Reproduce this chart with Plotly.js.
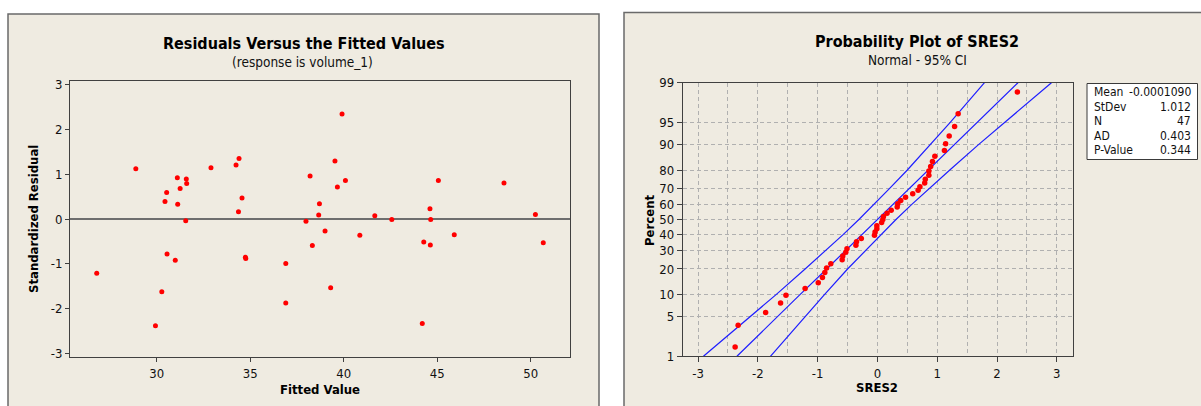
<!DOCTYPE html>
<html>
<head>
<meta charset="utf-8">
<script src="https://cdn.plot.ly/plotly-3.0.1.min.js"></script>
<style>
  html, body { margin: 0; padding: 0; background: #ffffff; }
  #chart { width: 1201px; height: 406px; }
</style>
</head>
<body>
<div id="chart"></div>
<script>
// ---- Data ----
const fittedValues = [26.79, 28.88, 30.27, 29.93, 30.44, 30.53, 30.55, 31.10, 31.12, 31.25, 30.99, 31.58, 31.60, 31.55, 32.90, 34.24, 34.40, 34.56, 34.37, 34.74, 34.76, 36.90, 36.90, 37.98, 38.20, 38.32, 38.70, 38.66, 39.00, 39.30, 39.91, 39.53, 39.66, 40.09, 40.86, 41.66, 42.57, 44.20, 44.28, 44.61, 44.65, 44.63, 45.06, 45.91, 48.57, 50.25, 50.67];
const residuals = [-1.21, 1.12, -1.62, -2.38, 0.39, 0.59, -0.78, 0.92, 0.33, 0.68, -0.92, 0.89, 0.79, -0.04, 1.14, 1.20, 1.35, 0.47, 0.16, -0.85, -0.88, -0.99, -1.87, -0.05, 0.96, -0.59, 0.34, 0.09, -0.27, -1.53, 2.34, 1.29, 0.71, 0.86, -0.36, 0.07, -0.01, -2.33, -0.51, 0.23, -0.01, -0.58, 0.86, -0.35, 0.80, 0.10, -0.53];

// plotting positions (percent) of the sorted SRES2 values, as drawn
const plotPercent = [1.5, 3.6, 5.7, 7.8, 9.9, 12.0, 14.1, 16.2, 18.4, 20.5, 22.6, 24.7, 26.8, 28.9, 31.0, 33.1, 35.2, 37.3, 39.5, 41.6, 43.7, 45.8, 47.9, 50.0, 52.1, 54.2, 56.3, 58.4, 60.5, 62.7, 64.8, 66.9, 69.0, 71.1, 73.2, 75.3, 77.4, 79.5, 81.6, 83.8, 85.9, 88.0, 90.1, 92.2, 94.3, 96.4, 98.5];

// fitted line and 95% CI bands (x positions at each percent level)
const bandPercent = [1, 5, 10, 20, 30, 40, 50, 60, 70, 80, 90, 95, 99];
const fitLineX   = [-2.35, -1.67, -1.30, -0.85, -0.53, -0.26, 0.00, 0.26, 0.53, 0.85, 1.30, 1.67, 2.35];
const ciLeftX    = [-2.91, -2.12, -1.70, -1.21, -0.86, -0.57, -0.31, -0.06, 0.20, 0.50, 0.89, 1.21, 1.79];
const ciRightX   = [-1.79, -1.21, -0.89, -0.50, -0.20, 0.06, 0.31, 0.57, 0.86, 1.21, 1.70, 2.12, 2.91];

const percentTicks = [1, 5, 10, 20, 30, 40, 50, 60, 70, 80, 90, 95, 99];
const residTicks = [-3, -2, -1, 0, 1, 2, 3];
const residTickText = ["-3", "-2", "-1", "0", "1", "2", "3"];
const fittedTicks = [30, 35, 40, 45, 50];
const sresTicks = [-3, -2, -1, 0, 1, 2, 3];
const sresTickText = ["-3", "-2", "-1", "0", "1", "2", "3"];
const statLabels = ["Mean", "StDev", "N", "AD", "P-Value"];
const statValues = ["-0.0001090", "1.012", "47", "0.403", "0.344"];

// ---- normal probability axis transform (inverse standard normal CDF) ----
function normInv(p) {
  const a = [-3.969683028665376e+01, 2.209460984245205e+02, -2.759285104469687e+02, 1.383577518672690e+02, -3.066479806614716e+01, 2.506628277459239e+00];
  const b = [-5.447609879822406e+01, 1.615858368580409e+02, -1.556989798598866e+02, 6.680131188771972e+01, -1.328068155288572e+01];
  const c = [-7.784894002430293e-03, -3.223964580411365e-01, -2.400758277161838e+00, -2.549732539343734e+00, 4.374664141464968e+00, 2.938163982698783e+00];
  const d = [7.784695709041462e-03, 3.224671290700398e-01, 2.445134137142996e+00, 3.754408661907416e+00];
  const pl = 0.02425;
  let q, r;
  if (p < pl) {
    q = Math.sqrt(-2 * Math.log(p));
    return (((((c[0]*q+c[1])*q+c[2])*q+c[3])*q+c[4])*q+c[5]) / ((((d[0]*q+d[1])*q+d[2])*q+d[3])*q+1);
  } else if (p <= 1 - pl) {
    q = p - 0.5; r = q*q;
    return (((((a[0]*r+a[1])*r+a[2])*r+a[3])*r+a[4])*r+a[5])*q / (((((b[0]*r+b[1])*r+b[2])*r+b[3])*r+b[4])*r+1);
  } else {
    q = Math.sqrt(-2 * Math.log(1 - p));
    return -(((((c[0]*q+c[1])*q+c[2])*q+c[3])*q+c[4])*q+c[5]) / ((((d[0]*q+d[1])*q+d[2])*q+d[3])*q+1);
  }
}
const pz = p => normInv(p / 100);

const sres2Sorted = residuals.slice().sort((u, v) => u - v);

// ---- layout helpers ----
const W = 1201, H = 406;
const px = x => x / W;
const py = y => 1 - y / H;

const FONT = "DejaVu Sans Condensed, DejaVu Sans, Liberation Sans Narrow, sans-serif";
const AX = "#404040";
const RED = "#ff0000";
const BLUE = "#1f1fff";
const GRID = "#b0b0b0";

const traces = [
  { type: "scatter", mode: "markers", x: fittedValues, y: residuals, xaxis: "x", yaxis: "y",
    marker: { color: RED, size: 5 } },
  { type: "scatter", mode: "lines", x: ciLeftX, y: bandPercent.map(pz), xaxis: "x2", yaxis: "y2",
    line: { color: BLUE, width: 1.2 } },
  { type: "scatter", mode: "lines", x: ciRightX, y: bandPercent.map(pz), xaxis: "x2", yaxis: "y2",
    line: { color: BLUE, width: 1.2 } },
  { type: "scatter", mode: "lines", x: fitLineX, y: bandPercent.map(pz), xaxis: "x2", yaxis: "y2",
    line: { color: BLUE, width: 1.2 } },
  { type: "scatter", mode: "markers", x: sres2Sorted, y: plotPercent.map(pz), xaxis: "x2", yaxis: "y2",
    marker: { color: RED, size: 5.5 } }
];

const tickFont = { family: FONT, size: 13, color: "#111" };

const ann = (text, x, y, size, bold, extra) => Object.assign({
  text: text, x: px(x), y: py(y), xref: "paper", yref: "paper", showarrow: false,
  xanchor: "center", yanchor: "middle",
  font: { family: FONT, size: size, color: bold ? "#000" : "#111", weight: bold ? "bold" : "normal" }
}, extra || {});

const annotations = [
  ann("Residuals Versus the Fitted Values", 304, 43, 16, true),
  ann("(response is volume_1)", 302.5, 62.5, 13.5, false),
  ann("Fitted Value", 320, 389, 13, true),
  ann("Standardized Residual", 34, 219, 13, true, { textangle: -90 }),
  ann("Probability Plot of SRES2", 917, 41.5, 16, true),
  ann("Normal - 95% CI", 917, 59.5, 13.5, false),
  ann("SRES2", 877, 387, 13, true),
  ann("Percent", 649, 220, 13, true, { textangle: -90 })
];

const statRowY = [92.5, 107, 121, 135.5, 150];
statLabels.forEach((lab, i) => {
  annotations.push(ann(lab, 1092, statRowY[i], 12, false, { xanchor: "left" }));
  annotations.push(ann(statValues[i], 1193, statRowY[i], 12, false, { xanchor: "right" }));
});

const shapes = [
  { type: "rect", xref: "paper", yref: "paper", x0: px(8), x1: px(599), y0: -0.02, y1: py(14),
    fillcolor: "#efebe1", line: { color: "#6a6a6a", width: 1.5 }, layer: "below" },
  { type: "rect", xref: "paper", yref: "paper", x0: px(624), x1: 1.02, y0: -0.02, y1: py(12.5),
    fillcolor: "#efebe1", line: { color: "#6a6a6a", width: 1.5 }, layer: "below" },
  { type: "rect", xref: "paper", yref: "paper", x0: px(1087), x1: px(1197.5), y0: py(159.5), y1: py(83.5),
    fillcolor: "#ffffff", line: { color: "#3a3a3a", width: 1 }, layer: "below" }
];

const gridDash = "4px,3px";

const layout = {
  width: W, height: H,
  margin: { l: 0, r: 0, t: 0, b: 0, pad: 0 },
  paper_bgcolor: "#ffffff",
  plot_bgcolor: "#ffffff",
  showlegend: false,
  font: { family: FONT, color: "#111" },
  shapes: shapes,
  annotations: annotations,
  xaxis: {
    domain: [px(70), px(570)], anchor: "y",
    range: [25.36, 52.1], tickvals: fittedTicks,
    showgrid: false, zeroline: false,
    showline: true, mirror: true, linecolor: AX, linewidth: 1,
    ticks: "outside", ticklen: 4, tickcolor: AX, tickfont: tickFont
  },
  yaxis: {
    domain: [py(357.3), py(80.7)], anchor: "x",
    range: [-3.08, 3.08], tickvals: residTicks, ticktext: residTickText,
    showgrid: false, zeroline: true, zerolinecolor: "#6e6e6e", zerolinewidth: 1.5,
    showline: true, mirror: true, linecolor: AX, linewidth: 1,
    ticks: "outside", ticklen: 4, tickcolor: AX, tickfont: tickFont
  },
  xaxis2: {
    domain: [px(682.7), px(1072.5)], anchor: "y2",
    range: [-3.257, 3.262], tickvals: sresTicks, ticktext: sresTickText,
    showgrid: true, gridcolor: GRID, griddash: gridDash, gridwidth: 1,
    minor: { tick0: 0, dtick: 0.5, showgrid: true, gridcolor: GRID, griddash: gridDash, gridwidth: 1, ticks: "" },
    zeroline: false,
    showline: true, mirror: true, linecolor: AX, linewidth: 1,
    ticks: "outside", ticklen: 5, tickcolor: AX, tickfont: tickFont
  },
  yaxis2: {
    domain: [py(356.3), py(82.7)], anchor: "x2",
    range: [pz(1), pz(99)],
    tickvals: percentTicks.map(pz), ticktext: percentTicks.map(String),
    showgrid: true, gridcolor: GRID, griddash: gridDash, gridwidth: 1,
    zeroline: false,
    showline: true, mirror: true, linecolor: AX, linewidth: 1,
    ticks: "outside", ticklen: 5, tickcolor: AX, tickfont: tickFont
  }
};

Plotly.newPlot("chart", traces, layout, { staticPlot: true, displayModeBar: false });
</script>
</body>
</html>
